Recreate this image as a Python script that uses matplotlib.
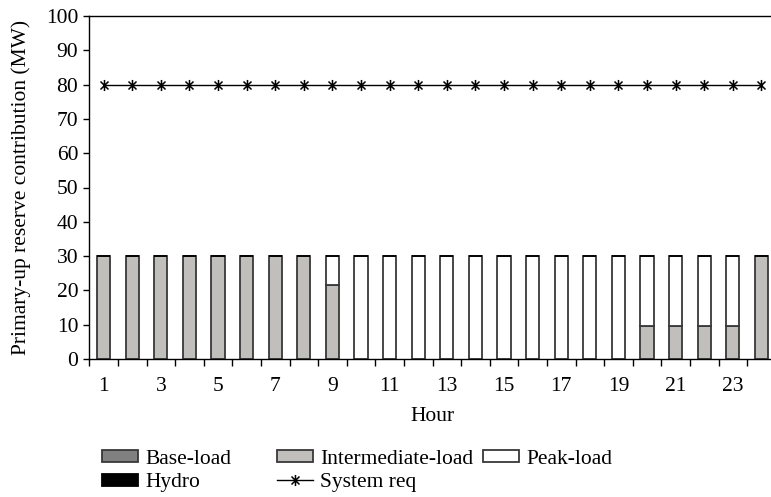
import numpy as np
from matplotlib import pyplot as plt
from matplotlib.path import Path

plt.rcParams['font.family'] = ['Liberation Serif', 'DejaVu Serif']
plt.rcParams['font.size'] = 15.5

hours = list(range(1, 25))
base_load = [0] * 24
intermediate_load = [30, 30, 30, 30, 30, 30, 30, 30, 21.5,
                     0, 0, 0, 0, 0, 0, 0, 0, 0, 0,
                     9.5, 9.5, 9.5, 9.5, 30]
peak_load = [0, 0, 0, 0, 0, 0, 0, 0, 8.5,
             30, 30, 30, 30, 30, 30, 30, 30, 30, 30,
             20.5, 20.5, 20.5, 20.5, 0]
hydro = [0] * 24
system_req = [80] * 24

# asterisk marker: vertical bar plus an x
star = Path([(0, -1), (0, 1), (-0.72, -0.72), (0.72, 0.72), (-0.72, 0.72), (0.72, -0.72)],
            [Path.MOVETO, Path.LINETO, Path.MOVETO, Path.LINETO, Path.MOVETO, Path.LINETO])

W, H = 771, 497
fig = plt.figure(figsize=(W / 100, H / 100), dpi=100)
ax = fig.add_axes([89.3 / W, 1 - 359 / H, 686.4 / W, 343 / H])

x = np.arange(len(hours))
w = 0.46
edge = '#383838'
b0 = np.array(base_load, dtype=float)
b1 = b0 + np.array(intermediate_load)
b2 = b1 + np.array(peak_load)

h_base = ax.bar(x, base_load, w, color='#808080', edgecolor=edge, linewidth=1.3, label='Base-load')
h_int = ax.bar(x, intermediate_load, w, bottom=b0, color='#c0bfbc', edgecolor=edge, linewidth=1.3,
               label='Intermediate-load')
h_peak = ax.bar(x, peak_load, w, bottom=b1, color='white', edgecolor=edge, linewidth=1.3, label='Peak-load')
h_hydro = ax.bar(x, hydro, w, bottom=b2, color='black', edgecolor='black', linewidth=1.3, label='Hydro')
h_sys, = ax.plot(x, system_req, color='black', linewidth=1.0, marker=star, markersize=8,
                 markeredgewidth=1.1, markerfacecolor='none', markeredgecolor='black', label='System req')

ax.set_xlim(-0.5, len(hours) - 0.5)
ax.set_ylim(0, 100)
ax.set_yticks(range(0, 101, 10))
ax.set_xticks(np.arange(-0.5, len(hours), 1.0))
ax.set_xticklabels([])
ax.set_xticks(x[::2], minor=True)
ax.set_xticklabels([str(h) for h in hours[::2]], minor=True)
ax.tick_params(axis='x', which='major', direction='out', length=5, width=1.0)
ax.tick_params(axis='x', which='minor', length=0, pad=13)
ax.tick_params(axis='y', direction='out', length=4, width=1.0, pad=4)

for s in ax.spines.values():
    s.set_linewidth(1.0)
ax.spines['right'].set_visible(False)

ax.set_xlabel('Hour', labelpad=8)
ax.set_ylabel('Primary-up reserve contribution (MW)', labelpad=11)

# legend laid out as three fixed columns
columns = [([h_base, h_hydro], 102), ([h_int, h_sys], 277), ([h_peak], 483)]
for hs, px in columns:
    fig.legend(handles=hs, labels=[h.get_label() for h in hs], frameon=False,
               loc='upper left', bbox_to_anchor=(px / W, 1 - 450 / H), borderpad=0, borderaxespad=0,
               handlelength=1.65, handleheight=0.5, handletextpad=0.35, labelspacing=0.2)

fig.savefig('out.png', dpi=100)
